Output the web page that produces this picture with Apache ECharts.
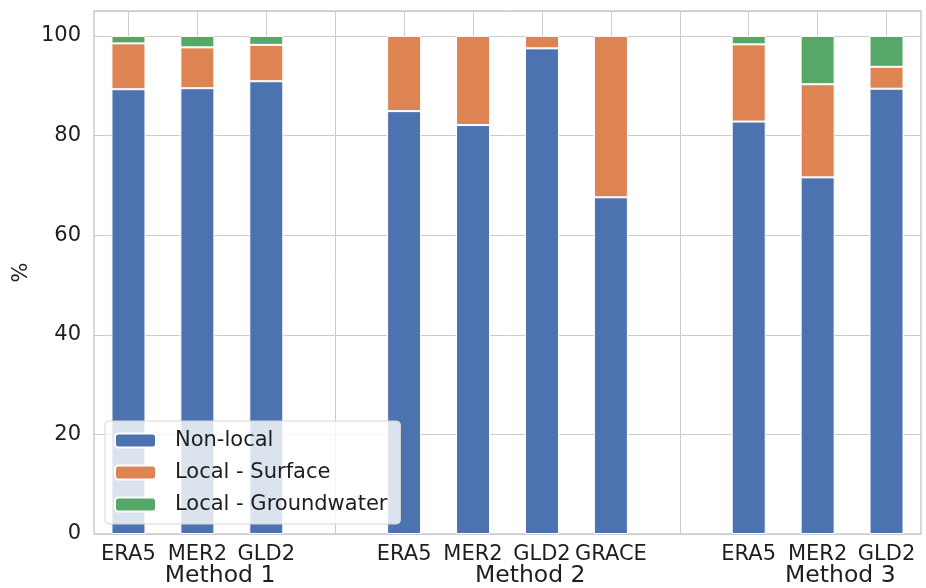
<!DOCTYPE html>
<html>
<head>
<meta charset="utf-8">
<script src="https://cdn.jsdelivr.net/npm/echarts@6/dist/echarts.min.js"></script>
<style>
  html, body { margin: 0; padding: 0; background: #fff; }
  #chart { width: 926px; height: 588px; }
</style>
</head>
<body>
<div id="chart"></div>
<script>
// one slot per category, '' = empty gap between methods
const categories = ['ERA5', 'MER2', 'GLD2', '', 'ERA5', 'MER2', 'GLD2', 'GRACE', '', 'ERA5', 'MER2', 'GLD2']
const methods = ['Method 1', 'Method 2', 'Method 3']
const methodPos = [1.33, 5.83, 10.33]

// shares in %
const nonLocal = [89.3, 89.5, 90.9, null, 84.9, 82.1, 97.5, 67.6, null, 82.8, 71.6, 89.4]
const surface = [9.2, 8.2, 7.3, null, 15.1, 17.9, 2.5, 32.4, null, 15.5, 18.7, 4.4]
const groundwater = [1.5, 2.3, 1.8, null, 0, 0, 0, 0, null, 1.7, 9.7, 6.2]

const yTicks = [0, 20, 40, 60, 80, 100]

const colors = ['#4C72B0', '#DD8452', '#55A868']
const txt = '#1e1e1e'
const fontFamily = 'DejaVu Sans'

const slotPos = categories.map((c, i) => i)

const barSeries = (name, vals, color) => ({
  name: name,
  type: 'bar',
  stack: 'total',
  xAxisIndex: 0,
  barWidth: 34,
  data: vals.map((v) => (v === null || v === 0 ? '-' : v)),
  itemStyle: { color: color, borderColor: '#ffffff', borderWidth: 1 },
  emphasis: { disabled: true }
})

const chart = echarts.init(document.getElementById('chart'), null, { renderer: 'canvas' })

chart.setOption({
  animation: false,
  textStyle: { fontFamily: fontFamily },
  grid: {
    left: 94,
    right: 5,
    top: 11,
    bottom: 54,
    show: true,
    borderColor: '#cccccc',
    borderWidth: 1.5,
    backgroundColor: 'transparent'
  },
  legend: {
    left: 105,
    top: 421,
    orient: 'vertical',
    itemWidth: 41,
    itemHeight: 14,
    itemGap: 11,
    padding: [9, 13, 9, 9],
    backgroundColor: 'rgba(255,255,255,0.8)',
    borderColor: '#d6d6d6',
    borderWidth: 1,
    borderRadius: 4,
    textStyle: { fontSize: 21, lineHeight: 21, color: txt, padding: [0, 0, 0, 14] },
    data: ['Non-local', 'Local - Surface', 'Local - Groundwater']
  },
  xAxis: [
    {
      type: 'category',
      data: categories,
      boundaryGap: true,
      axisLine: { show: false },
      axisTick: { show: false },
      splitLine: { show: false },
      axisLabel: { interval: 0, margin: 10, fontSize: 21, color: txt }
    },
    {
      // vertical grid lines through every slot centre
      type: 'value',
      min: -0.5,
      max: 11.5,
      axisLine: { show: false },
      axisTick: { show: false, customValues: slotPos },
      axisLabel: { show: false },
      splitLine: { show: true, lineStyle: { color: '#cccccc', width: 1 } }
    },
    {
      type: 'value',
      position: 'bottom',
      offset: 22,
      min: -0.5,
      max: 11.5,
      axisLine: { show: false },
      axisTick: { show: false, customValues: methodPos },
      splitLine: { show: false },
      axisLabel: {
        customValues: methodPos,
        margin: 8,
        fontSize: 23.5,
        color: txt,
        formatter: (v) => {
          const i = methodPos.findIndex((p) => Math.abs(p - v) < 0.01)
          return i >= 0 ? methods[i] : ''
        }
      }
    }
  ],
  yAxis: {
    type: 'value',
    min: 0,
    max: 105,
    interval: 20,
    name: '%',
    nameLocation: 'middle',
    nameGap: 62,
    nameRotate: 90,
    nameMoveOverlap: false,
    nameTextStyle: { fontSize: 21, color: txt },
    axisLine: { show: false },
    axisTick: { show: false },
    splitLine: { show: true, lineStyle: { color: '#cccccc', width: 1 } },
    axisLabel: {
      margin: 13,
      fontSize: 21,
      color: txt,
      showMaxLabel: false,
      formatter: (v) => (yTicks.indexOf(v) >= 0 ? String(v) : '')
    }
  },
  series: [
    barSeries('Non-local', nonLocal, colors[0]),
    barSeries('Local - Surface', surface, colors[1]),
    barSeries('Local - Groundwater', groundwater, colors[2])
  ]
})
</script>
</body>
</html>
